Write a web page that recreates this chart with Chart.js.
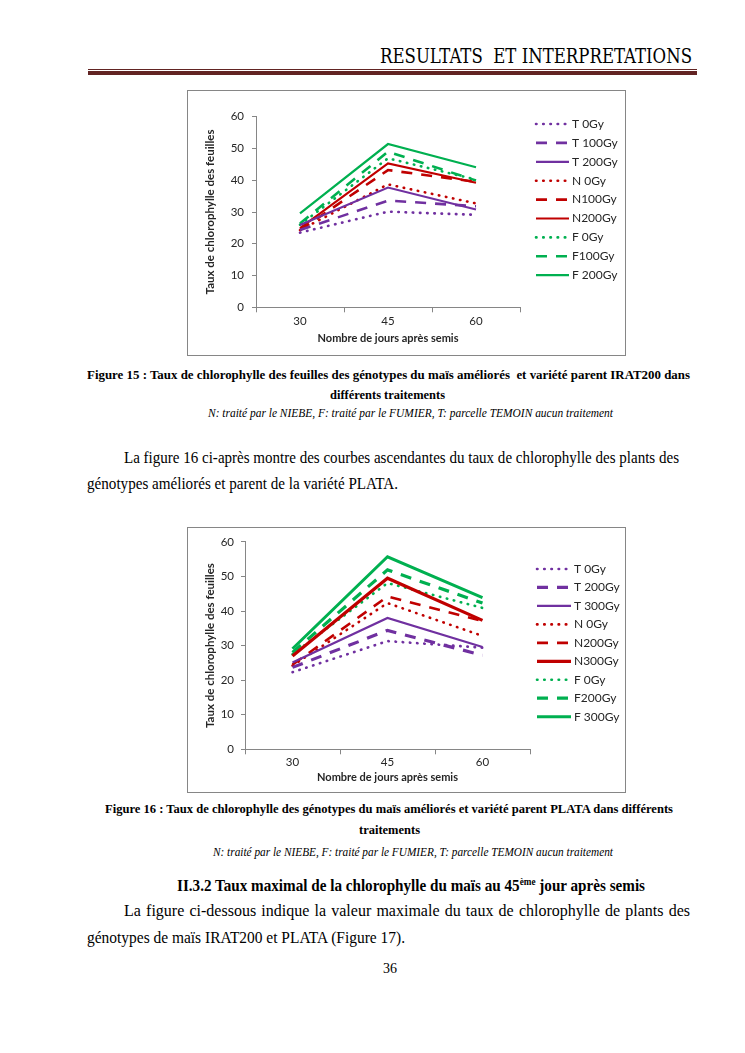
<!DOCTYPE html>
<html><head><meta charset="utf-8">
<script src="https://cdn.jsdelivr.net/npm/chart.js@4"></script>
<style>
body{margin:0;background:#fff;width:745px;height:1053px;position:relative;overflow:hidden;font-family:"Liberation Serif","Times New Roman",serif;color:#000}
.t{position:absolute;white-space:nowrap;line-height:1}
.f{transform-origin:0 0}
.box{position:absolute;border:1px solid #868686;box-sizing:border-box;background:#fff}
.box canvas{position:absolute;left:0;top:0}
.b{font-weight:bold}
.i{font-style:italic}
</style></head><body>

<div class="t f" data-w="312" style="left:380px;top:46px;font-size:20px;font-family:'DejaVu Serif Condensed','Liberation Serif',serif">RESULTATS&nbsp; ET INTERPRETATIONS</div>
<div style="position:absolute;left:88px;width:609px;top:69px;height:1px;background:#622423"></div>
<div style="position:absolute;left:88px;width:609px;top:71px;height:4px;background:#622423"></div>

<div class="box" style="left:187px;top:90px;width:439px;height:266px"><canvas id="c1" width="437" height="264"></canvas></div>

<div class="t b f" data-w="603" style="left:87px;top:368px;font-size:13.5px">Figure 15 : Taux de chlorophylle des feuilles des génotypes du maïs améliorés&nbsp; et variété parent IRAT200 dans</div>
<div class="t b f" data-w="115" style="left:330px;top:388px;font-size:13.5px">différents traitements</div>
<div class="t i f" data-w="405" style="left:208px;top:408px;font-size:11.5px">N: traité par le NIEBE, F: traité par le FUMIER, T: parcelle TEMOIN aucun traitement</div>

<div class="t f" data-w="555" style="left:124px;top:450px;font-size:16.5px">La figure 16 ci-après montre des courbes ascendantes du taux de chlorophylle des plants des</div>
<div class="t f" data-w="311" style="left:87px;top:476px;font-size:16.5px">génotypes améliorés et parent de la variété PLATA.</div>

<div class="box" style="left:187px;top:527px;width:439px;height:266px"><canvas id="c2" width="437" height="264"></canvas></div>

<div class="t b f" data-w="568" style="left:105px;top:802px;font-size:13.5px">Figure 16 : Taux de chlorophylle des génotypes du maïs améliorés et variété parent PLATA dans différents</div>
<div class="t b f" data-w="61" style="left:359px;top:823px;font-size:13.5px">traitements</div>
<div class="t i f" data-w="400" style="left:213px;top:847px;font-size:11.5px">N: traité par le NIEBE, F: traité par le FUMIER, T: parcelle TEMOIN aucun traitement</div>

<div class="t b f" data-w="468" style="left:177px;top:878px;font-size:16.5px">II.3.2 Taux maximal de la chlorophylle du maïs au 45<sup style="font-size:10px;vertical-align:6px;line-height:0">ème</sup> jour après semis</div>
<div class="t" style="left:124px;width:566px;top:903px;font-size:16px;text-align:justify;text-align-last:justify;white-space:normal">La figure ci-dessous indique la valeur maximale du taux de chlorophylle de plants des</div>
<div class="t f" data-w="318" style="left:87px;top:930px;font-size:16.5px">génotypes de maïs IRAT200 et PLATA (Figure 17).</div>
<div class="t" style="left:0;width:780px;text-align:center;top:962px;font-size:14px">36</div>

<script>
// ---- shared axis data ----
const days = ['30', '45', '60'];
const yTickValues = [0, 10, 20, 30, 40, 50, 60];
const yTitle = 'Taux de chlorophylle des feuilles';
const xTitle = 'Nombre de jours après semis';

// ---- Figure 15 (IRAT200) ----
const labels1 = ['T 0Gy', 'T 100Gy', 'T 200Gy', 'N 0Gy', 'N100Gy', 'N200Gy', 'F 0Gy', 'F100Gy', 'F 200Gy'];
const t0_1   = [23.5, 30.1, 29.1];
const t100_1 = [24.3, 33.6, 31.8];
const t200_1 = [25.9, 37.7, 30.8];
const n0_1   = [24.3, 38.7, 32.7];
const n100_1 = [24.3, 43.2, 39.5];
const n200_1 = [24.9, 45.3, 39.2];
const f0_1   = [26.0, 46.9, 40.2];
const f100_1 = [26.4, 49.0, 39.9];
const f200_1 = [29.6, 51.4, 44.1];

// ---- Figure 16 (PLATA) ----
const labels2 = ['T 0Gy', 'T 200Gy', 'T 300Gy', 'N 0Gy', 'N200Gy', 'N300Gy', 'F 0Gy', 'F200Gy', 'F 300Gy'];
const t0_2   = [22.3, 31.3, 29.4];
const t200_2 = [23.7, 34.4, 27.2];
const t300_2 = [25.1, 38.0, 29.6];
const n0_2   = [24.2, 42.3, 32.8];
const n200_2 = [24.5, 44.2, 37.1];
const n300_2 = [27.0, 49.5, 37.3];
const f0_2   = [27.5, 48.1, 40.9];
const f200_2 = [28.0, 51.9, 42.3];
const f300_2 = [29.1, 55.7, 43.9];

const groupColors = ['#7030A0', '#C00000', '#00B050'];
const styles = [
  {dash: [0.5, 6.7], cap: 'round', width: 2.6},
  {dash: [11, 9], cap: 'butt', width: 2.6},
  {dash: [], cap: 'butt', width: 2.2}
];
const FONT = 'Lato, "Open Sans", sans-serif';

function buildDatasets(labels, series, widths) {
  return series.map((data, i) => {
    const st = styles[i % 3];
    return {
      label: labels[i],
      data: data,
      borderColor: groupColors[Math.floor(i / 3)],
      backgroundColor: groupColors[Math.floor(i / 3)],
      borderDash: st.dash,
      borderCapStyle: st.cap,
      borderWidth: (widths && widths[i]) || st.width,
      pointRadius: 0,
      pointHoverRadius: 0,
      tension: 0,
      fill: false
    };
  });
}

const legendPlugin = {
  id: 'sideLegend',
  afterDraw(chart, args, opts) {
    const ctx = chart.ctx;
    ctx.save();
    chart.data.datasets.forEach((ds, i) => {
      const y = opts.y0 + i * opts.dy;
      ctx.beginPath();
      ctx.strokeStyle = ds.borderColor;
      ctx.lineWidth = ds.borderWidth;
      ctx.lineCap = ds.borderCapStyle;
      ctx.setLineDash(ds.borderDash);
      ctx.moveTo(opts.x1, y);
      ctx.lineTo(opts.x2, y);
      ctx.stroke();
      ctx.setLineDash([]);
      ctx.fillStyle = '#262626';
      ctx.font = '12px ' + FONT;
      ctx.textBaseline = 'middle';
      ctx.textAlign = 'left';
      ctx.fillText(ds.label, opts.tx, y);
    });
    ctx.restore();
  }
};

function makeChart(id, labels, series, g, widths) {
  return new Chart(document.getElementById(id), {
    type: 'line',
    data: {labels: days, datasets: buildDatasets(labels, series, widths)},
    plugins: [legendPlugin],
    options: {
      responsive: false,
      animation: false,
      devicePixelRatio: 1,
      layout: {padding: {left: 0, top: g.top, right: g.right, bottom: 0}},
      plugins: {
        legend: {display: false},
        tooltip: {enabled: false},
        sideLegend: g.legend
      },
      scales: {
        x: {
          offset: true,
          grid: {display: true, offset: true, drawOnChartArea: false, drawTicks: true, tickLength: 5, color: '#868686'},
          border: {display: true, color: '#868686', width: 1},
          ticks: {color: '#262626', font: {family: FONT, size: 11.5}, padding: g.xPad, maxRotation: 0},
          title: {display: true, text: xTitle, color: '#262626', font: {family: FONT, size: 11, weight: 'bold'}, padding: {top: 0, bottom: g.xTitlePad}},
          afterFit(s) { s.height = g.xH; }
        },
        y: {
          min: yTickValues[0],
          max: yTickValues[yTickValues.length - 1],
          afterBuildTicks(s) { s.ticks = yTickValues.map(v => ({value: v})); },
          grid: {display: true, drawOnChartArea: false, drawTicks: true, tickLength: 4, color: '#868686'},
          border: {display: true, color: '#868686', width: 1},
          ticks: {color: '#262626', font: {family: FONT, size: 11.5}, padding: g.yPad},
          title: {display: true, text: yTitle, color: '#262626', font: {family: FONT, size: 11.5, weight: 'bold'}, padding: {top: 15, bottom: 0}},
          afterFit(s) { s.width = g.yW; }
        }
      }
    }
  });
}

makeChart('c1', labels1, [t0_1, t100_1, t200_1, n0_1, n100_1, n200_1, f0_1, f100_1, f200_1], {
  top: 25.7, right: 105, xH: 47.7, yW: 68, xPad: 2, yPad: 8, xTitlePad: 10,
  legend: {x1: 348, x2: 381, tx: 384, y0: 33, dy: 18.9}
});

makeChart('c2', labels2, [t0_2, t200_2, t300_2, n0_2, n200_2, n300_2, f0_2, f200_2, f300_2], {
  top: 12, right: 95, xH: 42.7, yW: 57, xPad: 1, yPad: 7, xTitlePad: 8,
  legend: {x1: 349, x2: 383, tx: 386, y0: 41, dy: 18.46}
}, [null, 3.2, null, null, 2.6, 3.2, null, 3.2, 3.0]);

// fit text lines horizontally to the widths measured on the reference
document.querySelectorAll('.f').forEach(el => {
  const w = parseFloat(el.dataset.w);
  const nat = el.getBoundingClientRect().width;
  if (nat > 0) el.style.transform = 'scaleX(' + (w / nat) + ')';
});
</script>
</body></html>
